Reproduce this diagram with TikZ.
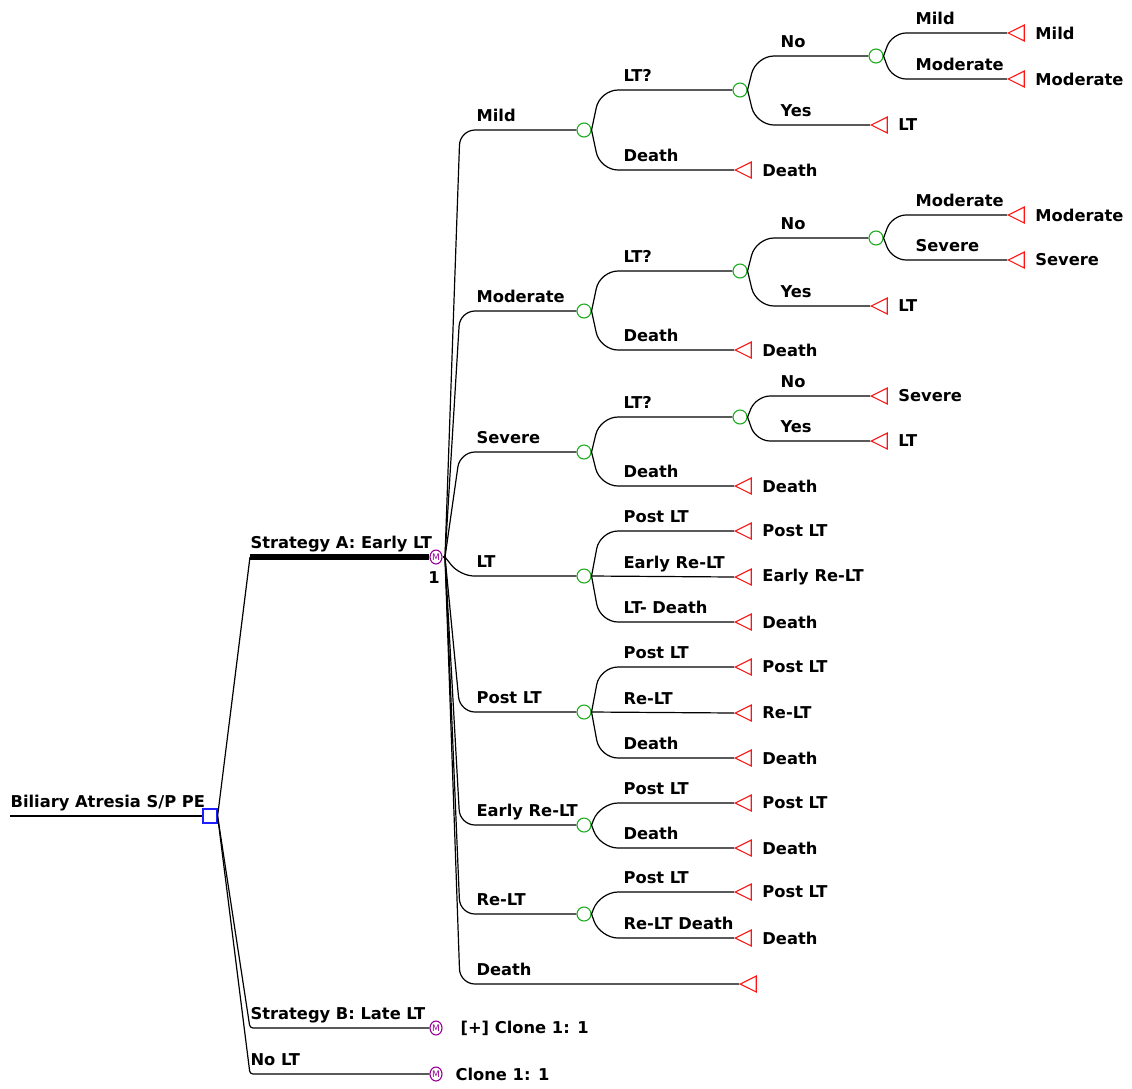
\documentclass[tikz,border=0pt]{standalone}
\usepackage{fontspec}
\setmainfont{DejaVu Sans}
\usepackage{xcolor}
\usetikzlibrary{shapes,positioning}
\definecolor{decblue}{RGB}{30,30,255}
\definecolor{chancegreen}{RGB}{30,170,30}
\definecolor{termred}{RGB}{255,20,20}
\definecolor{markovpurple}{RGB}{150,0,150}

\begin{document}
\begin{tikzpicture}[x=1pt, y=1pt, line width=1.2pt,
    font=\fontsize{16.3}{20}\selectfont\bfseries,
    decision/.style={rectangle, draw=decblue, minimum size=14pt, inner sep=0pt},
    chance/.style={circle, draw=chancegreen, line width=1.1pt, minimum size=14pt, inner sep=0pt},
    markov/.style={ellipse, draw=markovpurple, line width=1.1pt, minimum width=12pt, minimum height=14pt, inner sep=0pt, text=markovpurple, font=\fontsize{9}{9}\selectfont},
    term/.style={isosceles triangle, shape border rotate=180, isosceles triangle apex angle=53, draw=termred, line width=1.1pt, minimum size=16pt, inner sep=0pt, anchor=apex},
    lbl/.style={anchor=base west, inner sep=0pt},
    tlbl/.style={anchor=west, inner sep=0pt},
    curvy/.style={rounded corners=#1}, curvy/.default=18pt]
    \useasboundingbox (0,0) rectangle (1132,-1088);

    % decision node and strategies
    \coordinate (in) at (10,-816);
    \node[decision] (root) at (210,-816) {};
    \draw (in) -- (root);
    \node[lbl] (rootlbl) at (10,-807) {Biliary Atresia S/P PE};

    \node[markov] (mA) at (436,-557) {M};
    \node[markov] (mB) at (436,-1028) {M};
    \node[markov] (mC) at (436,-1074) {M};
    \coordinate (kA) at (250,-557);
    \coordinate (fan) at (445,-557);
    \draw (root.east) -- (kA);
    \draw[line width=5.5pt] (kA) -- (mA);
    \draw[curvy=3pt] (root.east) -- (250,-1028) -- (mB);
    \draw[curvy=3pt] (root.east) -- (250,-1074) -- (mC);
    \draw (mA) -- (fan);
    \node[lbl] (sA) at (250,-548) {Strategy A: Early LT};
    \node[lbl] (sB) at (250,-1019) {Strategy B: Late LT};
    \node[lbl] (sC) at (250,-1065) {No LT};
    \node (mAnum) at (434,-578) {1};
    \node[tlbl] (cloneB) at (460,-1028) {[+] Clone 1: 1};
    \node[tlbl] (cloneC) at (455,-1074) {Clone 1: 1};

    % health states
    \node[chance] (cMild) at (584,-130) {};
    \node[chance] (cMod) at (584,-311) {};
    \node[chance] (cSev) at (584,-452) {};
    \node[chance] (cLT) at (584,-576) {};
    \node[chance] (cPost) at (584,-712) {};
    \node[chance] (cEarly) at (584,-825) {};
    \node[chance] (cRe) at (584,-914) {};
    \node[term] (tDeath) at (739,-984) {};
    \draw[curvy=15pt] (fan) -- (460,-130) -- (cMild);
    \draw[curvy=15pt] (fan) -- (460,-311) -- (cMod);
    \draw[curvy=15pt] (fan) -- (460,-452) -- (cSev);
    \draw[curvy=14pt] (fan) -- (460,-576) -- (cLT);
    \draw[curvy=15pt] (fan) -- (460,-712) -- (cPost);
    \draw[curvy=15pt] (fan) -- (460,-825) -- (cEarly);
    \draw[curvy=15pt] (fan) -- (460,-914) -- (cRe);
    \draw[curvy=15pt] (fan) -- (460,-984) -- (tDeath.apex);
    \node[lbl] (lMild) at (476,-121) {Mild};
    \node[lbl] (lMod) at (476,-302) {Moderate};
    \node[lbl] (lSev) at (476,-443) {Severe};
    \node[lbl] (lLT) at (476,-567) {LT};
    \node[lbl] (lPost) at (476,-703) {Post LT};
    \node[lbl] (lEarly) at (476,-816) {Early Re-LT};
    \node[lbl] (lRe) at (476,-905) {Re-LT};
    \node[lbl] (lDeath) at (476,-975) {Death};

    % Mild
    \node[chance] (cMildQ) at (740,-90) {};
    \node[term] (tMildD) at (734,-170) {};
    \draw[curvy] (cMild.east) -- (600,-90) -- (cMildQ);
    \draw[curvy] (cMild.east) -- (600,-170) -- (tMildD.apex);
    \node[lbl] at (623,-81) {LT?};
    \node[lbl] at (623,-161) {Death};
    \node[tlbl, right=10pt of tMildD] {Death};
    \node[chance] (cMildN) at (876,-56) {};
    \node[term] (tMildY) at (870,-125) {};
    \draw[curvy] (cMildQ.east) -- (756,-56) -- (cMildN);
    \draw[curvy] (cMildQ.east) -- (756,-125) -- (tMildY.apex);
    \node[lbl] at (780,-47) {No};
    \node[lbl] at (780,-116) {Yes};
    \node[tlbl, right=10pt of tMildY] {LT};
    \node[term] (tMildMi) at (1007,-33) {};
    \node[term] (tMildMo) at (1007,-79) {};
    \draw[curvy=14pt] (cMildN.east) -- (892,-33) -- (tMildMi.apex);
    \draw[curvy=14pt] (cMildN.east) -- (892,-79) -- (tMildMo.apex);
    \node[lbl] at (915,-24) {Mild};
    \node[lbl] at (915,-70) {Moderate};
    \node[tlbl, right=10pt of tMildMi] {Mild};
    \node[tlbl, right=10pt of tMildMo] {Moderate};

    % Moderate
    \node[chance] (cModQ) at (740,-271) {};
    \node[term] (tModD) at (734,-350) {};
    \draw[curvy] (cMod.east) -- (600,-271) -- (cModQ);
    \draw[curvy] (cMod.east) -- (600,-350) -- (tModD.apex);
    \node[lbl] at (623,-262) {LT?};
    \node[lbl] at (623,-341) {Death};
    \node[tlbl, right=10pt of tModD] {Death};
    \node[chance] (cModN) at (876,-238) {};
    \node[term] (tModY) at (870,-306) {};
    \draw[curvy] (cModQ.east) -- (756,-238) -- (cModN);
    \draw[curvy] (cModQ.east) -- (756,-306) -- (tModY.apex);
    \node[lbl] at (780,-229) {No};
    \node[lbl] at (780,-297) {Yes};
    \node[tlbl, right=10pt of tModY] {LT};
    \node[term] (tModMo) at (1007,-215) {};
    \node[term] (tModSe) at (1007,-260) {};
    \draw[curvy=14pt] (cModN.east) -- (892,-215) -- (tModMo.apex);
    \draw[curvy=14pt] (cModN.east) -- (892,-260) -- (tModSe.apex);
    \node[lbl] at (915,-206) {Moderate};
    \node[lbl] at (915,-251) {Severe};
    \node[tlbl, right=10pt of tModMo] {Moderate};
    \node[tlbl, right=10pt of tModSe] {Severe};

    % Severe
    \node[chance] (cSevQ) at (740,-417) {};
    \node[term] (tSevD) at (734,-486) {};
    \draw[curvy] (cSev.east) -- (600,-417) -- (cSevQ);
    \draw[curvy] (cSev.east) -- (600,-486) -- (tSevD.apex);
    \node[lbl] at (623,-408) {LT?};
    \node[lbl] at (623,-477) {Death};
    \node[tlbl, right=10pt of tSevD] {Death};
    \node[term] (tSevN) at (870,-396) {};
    \node[term] (tSevY) at (870,-441) {};
    \draw[curvy=14pt] (cSevQ.east) -- (756,-396) -- (tSevN.apex);
    \draw[curvy=14pt] (cSevQ.east) -- (756,-441) -- (tSevY.apex);
    \node[lbl] at (780,-387) {No};
    \node[lbl] at (780,-432) {Yes};
    \node[tlbl, right=10pt of tSevN] {Severe};
    \node[tlbl, right=10pt of tSevY] {LT};

    % LT
    \node[term] (tLTP) at (734,-531) {};
    \node[term] (tLTE) at (734,-577) {};
    \node[term] (tLTD) at (734,-622) {};
    \draw[curvy] (cLT.east) -- (600,-531) -- (tLTP.apex);
    \draw (cLT.east) -- (tLTE.apex);
    \draw[curvy] (cLT.east) -- (600,-622) -- (tLTD.apex);
    \node[lbl] at (623,-522) {Post LT};
    \node[lbl] at (623,-568) {Early Re-LT};
    \node[lbl] at (623,-613) {LT- Death};
    \node[tlbl, right=10pt of tLTP] {Post LT};
    \node[tlbl, right=10pt of tLTE] {Early Re-LT};
    \node[tlbl, right=10pt of tLTD] {Death};

    % Post LT
    \node[term] (tPP) at (734,-667) {};
    \node[term] (tPR) at (734,-713) {};
    \node[term] (tPD) at (734,-758) {};
    \draw[curvy] (cPost.east) -- (600,-667) -- (tPP.apex);
    \draw (cPost.east) -- (tPR.apex);
    \draw[curvy] (cPost.east) -- (600,-758) -- (tPD.apex);
    \node[lbl] at (623,-658) {Post LT};
    \node[lbl] at (623,-704) {Re-LT};
    \node[lbl] at (623,-749) {Death};
    \node[tlbl, right=10pt of tPP] {Post LT};
    \node[tlbl, right=10pt of tPR] {Re-LT};
    \node[tlbl, right=10pt of tPD] {Death};

    % Early Re-LT
    \node[term] (tEP) at (734,-803) {};
    \node[term] (tED) at (734,-848) {};
    \draw[curvy] (cEarly.east) -- (600,-803) -- (tEP.apex);
    \draw[curvy] (cEarly.east) -- (600,-848) -- (tED.apex);
    \node[lbl] at (623,-794) {Post LT};
    \node[lbl] at (623,-839) {Death};
    \node[tlbl, right=10pt of tEP] {Post LT};
    \node[tlbl, right=10pt of tED] {Death};

    % Re-LT
    \node[term] (tRP) at (734,-892) {};
    \node[term] (tRD) at (734,-938) {};
    \draw[curvy] (cRe.east) -- (600,-892) -- (tRP.apex);
    \draw[curvy] (cRe.east) -- (600,-938) -- (tRD.apex);
    \node[lbl] at (623,-883) {Post LT};
    \node[lbl] at (623,-929) {Re-LT Death};
    \node[tlbl, right=10pt of tRP] {Post LT};
    \node[tlbl, right=10pt of tRD] {Death};
\end{tikzpicture}
\end{document}
